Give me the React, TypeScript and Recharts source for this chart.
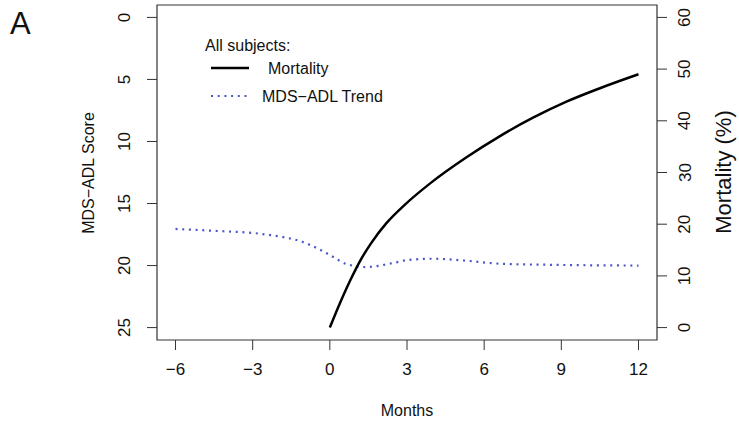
import { LineChart, Line, XAxis, YAxis, ReferenceArea } from 'recharts';

const FONT = '"Liberation Sans", Arial, Helvetica, sans-serif';

// axis ticks
const X_TICKS = [-6, -3, 0, 3, 6, 9, 12];
const ADL_TICKS = [0, 5, 10, 15, 20, 25];
const MORT_TICKS = [0, 10, 20, 30, 40, 50, 60];

// mortality (%), right axis
const MORT_MONTHS = [0, 0.4, 0.8, 1.2, 1.6, 2.2, 2.9, 3.9, 5.3, 6.6, 7.9, 9.2, 10.5, 12];
const MORTALITY = [0, 4.8, 9.2, 13.1, 16.3, 20.2, 23.7, 27.9, 32.9, 37.0, 40.6, 43.7, 46.3, 49.0];

// MDS-ADL score trend, left axis (reversed)
const ADL_MONTHS = [-6, -4.7, -2.7, -1.9, -1.2, -0.4, 0.1, 0.65, 1.4, 2.45, 3.0, 4.0, 5.3, 6.6, 8.6, 12];
const ADL_SCORE = [17.05, 17.18, 17.44, 17.68, 18.0, 18.7, 19.27, 19.88, 20.12, 19.8, 19.56, 19.45, 19.61, 19.85, 19.94, 20.0];

const mortData = MORT_MONTHS.map((m, i) => ({ month: m, mortality: MORTALITY[i] }));
const adlData = ADL_MONTHS.map((m, i) => ({ month: m, adl: ADL_SCORE[i] }));

const minus = (v: number) => (v < 0 ? `\u2212${-v}` : `${v}`);

const LeftTick = ({ y, payload }: any) => (
  <text x={125} y={y} transform={`rotate(-90 125 ${y})`} textAnchor="middle" dominantBaseline="central"
    fontSize={17} fontFamily={FONT} fill="#111">{payload.value}</text>
);

const RightTick = ({ y, payload }: any) => (
  <text x={685} y={y} transform={`rotate(-90 685 ${y})`} textAnchor="middle" dominantBaseline="central"
    fontSize={17} fontFamily={FONT} fill="#111">{payload.value}</text>
);

const BottomTick = ({ x, payload }: any) => (
  <text x={x} y={369} textAnchor="middle" dominantBaseline="central"
    fontSize={17} fontFamily={FONT} fill="#111">{minus(payload.value)}</text>
);

export default function App() {
  return (
    <div style={{ position: 'absolute', left: 0, top: 0, width: 739, height: 426, background: '#fff' }}>
      <LineChart width={739} height={426} margin={{ top: 5, right: 0, bottom: 0, left: 0 }}>
        <XAxis type="number" dataKey="month" domain={[-6.72, 12.72]} ticks={X_TICKS} allowDataOverflow
          height={86} axisLine={false} tickSize={10} tickLine={{ stroke: '#333' }} tick={<BottomTick />} />
        <YAxis yAxisId="adl" orientation="left" domain={[-1, 26]} reversed ticks={ADL_TICKS} allowDataOverflow
          width={157} axisLine={false} tickSize={10} tickLine={{ stroke: '#333' }} tick={<LeftTick />} />
        <YAxis yAxisId="mort" orientation="right" domain={[-2.4, 62.4]} ticks={MORT_TICKS} allowDataOverflow
          width={82} axisLine={false} tickSize={10} tickLine={{ stroke: '#333' }} tick={<RightTick />} />

        <ReferenceArea yAxisId="adl" x1={-6.72} x2={12.72} y1={-1} y2={26} fill="none" stroke="#333" strokeWidth={1.2} />

        <Line yAxisId="adl" data={adlData} dataKey="adl" type="monotone" stroke="#4b55c8" strokeWidth={2.2}
          strokeDasharray="2 4.7" dot={false} isAnimationActive={false} />
        <Line yAxisId="mort" data={mortData} dataKey="mortality" type="monotone" stroke="#000" strokeWidth={2.5}
          dot={false} isAnimationActive={false} />

        <text x={10} y={34} fontSize={31} fontFamily={FONT} fill="#111">A</text>
        <text x={88} y={173} transform="rotate(-90 88 173)" textAnchor="middle" dominantBaseline="central"
          fontSize={16} fontFamily={FONT} fill="#111">MDS{'\u2212'}ADL Score</text>
        <text x={723} y={172} transform="rotate(-90 723 172)" textAnchor="middle" dominantBaseline="central"
          fontSize={22} fontFamily={FONT} fill="#111">Mortality (%)</text>
        <text x={407} y={410} textAnchor="middle" dominantBaseline="central"
          fontSize={16} fontFamily={FONT} fill="#111">Months</text>

        <g fontFamily={FONT} fontSize={16} fill="#111">
          <text x={205} y={45} dominantBaseline="central">All subjects:</text>
          <line x1={211} x2={249} y1={68} y2={68} stroke="#000" strokeWidth={2.4} />
          <text x={268} y={68} dominantBaseline="central">Mortality</text>
          <line x1={211} x2={249} y1={96} y2={96} stroke="#4b55c8" strokeWidth={2.2} strokeDasharray="2 4.7" />
          <text x={262} y={96} dominantBaseline="central">MDS{'\u2212'}ADL Trend</text>
        </g>
      </LineChart>
    </div>
  );
}
